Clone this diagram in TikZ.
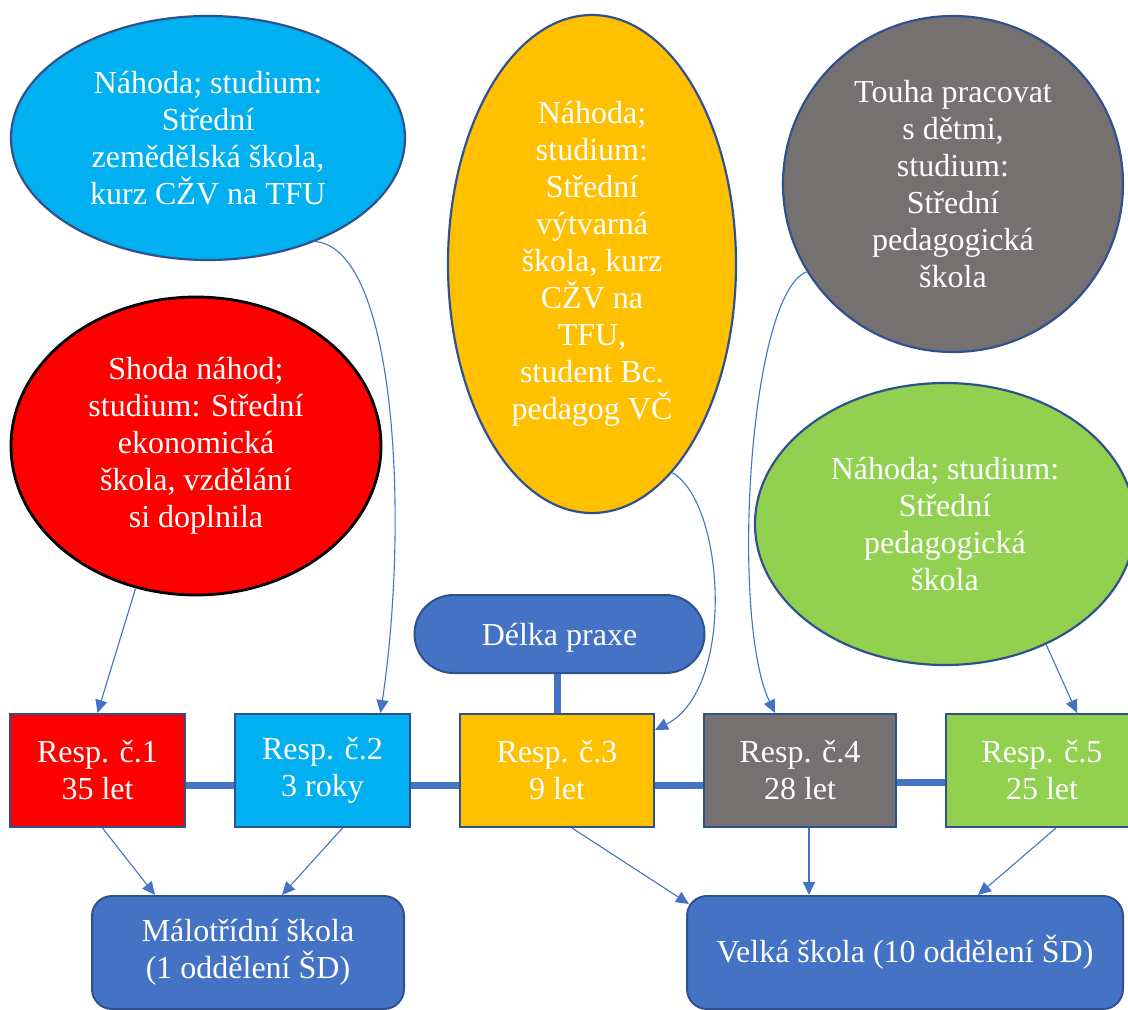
\documentclass[tikz,border=0pt]{standalone}
\usepackage{fontspec}
\setmainfont{Liberation Serif}
\usetikzlibrary{shapes.geometric, arrows.meta, positioning}
\definecolor{redfill}{HTML}{FF0000}
\definecolor{skyfill}{HTML}{00B0F0}
\definecolor{amber}{HTML}{FFC000}
\definecolor{slate}{HTML}{767171}
\definecolor{leaf}{HTML}{92D050}
\definecolor{accent}{HTML}{4472C4}
\definecolor{edgeblue}{HTML}{2F528F}

\begin{document}
\begin{tikzpicture}[
    x=1pt, y=-1pt,
    node distance=48pt,
    >={Triangle[length=13pt,width=12pt]},
    bubble/.style={ellipse, draw=edgeblue, line width=2.2pt, inner sep=0pt, align=center, text=white, font=\fontsize{32}{37}\selectfont},
    resp/.style={draw=edgeblue, line width=2pt, minimum height=113pt, inner sep=0pt, align=center, text=white, font=\fontsize{32}{37}\selectfont},
    school/.style={draw=edgeblue, fill=accent, line width=2pt, rounded corners=20pt, minimum height=113pt, align=center, text=white, font=\fontsize{32}{37}\selectfont},
    flow/.style={->, line width=1.1pt, accent},
    bar/.style={line width=7pt, accent}
  ]
    \useasboundingbox (0,0) rectangle (1128,1010);

    % motivace a studium
    \node[bubble, fill=skyfill, minimum width=394pt, minimum height=244pt] (motiv2) at (208,138) {Náhoda; studium:\\Střední\\zemědělská škola,\\kurz CŽV na TFU};
    \node[bubble, fill=redfill, draw=black, line width=2.8pt, minimum width=370pt, minimum height=298pt] (motiv1) at (196,446) {Shoda náhod;\\studium: Střední\\ekonomická\\škola, vzdělání\\si doplnila};
    \node[bubble, fill=amber, minimum width=288pt, minimum height=498pt] (motiv3) at (592,264) {Náhoda;\\studium:\\Střední\\výtvarná\\škola, kurz\\CŽV na\\TFU,\\student Bc.\\pedagog VČ};
    \node[bubble, fill=slate, minimum width=340pt, minimum height=336pt] (motiv4) at (953,184) {Touha pracovat\\s dětmi,\\studium:\\Střední\\pedagogická\\škola};
    \node[bubble, fill=leaf, minimum width=380pt, minimum height=282pt] (motiv5) at (945,524) {Náhoda; studium:\\Střední\\pedagogická\\škola};

    % respondenti
    \node[resp, fill=redfill, minimum width=175pt] (resp1) at (97.5,770.5) {Resp. č.1\\35 let};
    \node[resp, fill=skyfill, minimum width=175pt, right=of resp1] (resp2) {Resp. č.2\\3 roky};
    \node[resp, fill=amber, minimum width=194pt, right=of resp2] (resp3) {Resp. č.3\\9 let};
    \node[resp, fill=slate, minimum width=192pt, right=of resp3] (resp4) {Resp. č.4\\28 let};
    \node[resp, fill=leaf, minimum width=192pt, right=of resp4] (resp5) {Resp. č.5\\25 let};

    \node[school, rounded corners=39pt, minimum width=290pt, minimum height=78pt, text depth=0pt, above=39pt of resp3, xshift=2.5pt] (praxe) {Délka praxe};

    \node[school, minimum width=312pt] (mala) at (248,952.5) {Málotřídní škola\\(1 oddělení ŠD)};
    \node[school, minimum width=436pt] (velka) at (905,952.5) {Velká škola (10 oddělení ŠD)};

    \draw[bar] ([yshift=-15pt]resp1.east) -- ([yshift=-15pt]resp2.west);
    \draw[bar] ([yshift=-15pt]resp2.east) -- ([yshift=-15pt]resp3.west);
    \draw[bar] ([yshift=-15pt]resp3.east) -- ([yshift=-15pt]resp4.west);
    \draw[bar] ([yshift=-12pt]resp4.east) -- ([yshift=-12pt]resp5.west);
    \draw[bar] (praxe.south -| resp3.north) -- (resp3.north);

    \draw[flow] (motiv1.-113) -- (resp1.north);
    \draw[flow] (motiv2.-44) .. controls +(81,7) and +(29,-194) .. ([xshift=58pt]resp2.north);
    \draw[flow] (motiv3.-69) .. controls +(53,30) and +(81,-41) .. ([yshift=-17pt]resp3.north east);
    \draw[flow] (motiv4.211) .. controls +(-58,21) and +(-45,-94) .. ([xshift=-25pt]resp4.north);
    \draw[flow] (motiv5.-50) -- ([xshift=35pt]resp5.north);

    \draw[flow] ([xshift=5pt]resp1.south) -- ([xshift=-93pt]mala.north);
    \draw[flow] ([xshift=20pt]resp2.south) -- ([xshift=34pt]mala.north);
    \draw[flow] ([xshift=15pt]resp3.south) -- ([xshift=3pt,yshift=-9pt]velka.north west);
    \draw[flow] ([xshift=9pt]resp4.south) -- ([xshift=-96pt]velka.north);
    \draw[flow] ([xshift=14pt]resp5.south) -- ([xshift=73pt]velka.north);
  \end{tikzpicture}
\end{document}
